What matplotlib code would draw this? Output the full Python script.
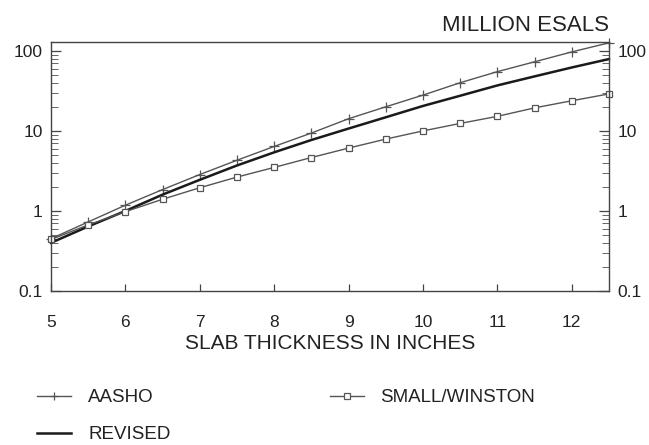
import matplotlib
matplotlib.use("Agg")
import matplotlib.pyplot as plt
from matplotlib.ticker import FixedLocator, LogLocator, NullFormatter, FixedFormatter

plt.rcParams['font.family'] = ['Liberation Sans', 'DejaVu Sans']

# data
thickness = [5.0, 5.5, 6.0, 6.5, 7.0, 7.5, 8.0, 8.5, 9.0, 9.5, 10.0, 10.5, 11.0, 11.5, 12.0, 12.5]
aasho = [0.45, 0.73, 1.18, 1.85, 2.85, 4.3, 6.4, 9.4, 14.2, 20.0, 28.0, 40.0, 55.0, 73.0, 97.0, 126.0]
revised = [0.40, 0.64, 1.0, 1.6, 2.45, 3.7, 5.4, 7.7, 10.7, 14.8, 20.5, 27.5, 37.0, 48.0, 62.0, 79.0]
small_winston = [0.44, 0.67, 0.98, 1.4, 1.95, 2.65, 3.5, 4.65, 6.1, 7.9, 10.0, 12.4, 15.2, 19.4, 23.8, 29.0]

x_ticks = [5, 6, 7, 8, 9, 10, 11, 12]
y_ticks = [0.1, 1, 10, 100]
y_tick_labels = ["0.1", "1", "10", "100"]

fig = plt.figure(figsize=(6.49, 4.45), dpi=100)
ax = fig.add_axes([51/649, 1-291/445, (609-51)/649, (291-42)/445])

ax.plot(thickness, aasho, color='#555555', lw=1.0, marker='+', ms=7, mew=0.9,
        label='AASHO', clip_on=False)
ax.plot(thickness, revised, color='#1a1a1a', lw=1.8, label='REVISED', clip_on=False)
ax.plot(thickness, small_winston, color='#555555', lw=1.0, marker='s', ms=5,
        mfc='white', mec='#555555', mew=0.9, label='SMALL/WINSTON', clip_on=False)

ax.set_yscale('log')
ax.set_xlim(5, 12.5)
ax.set_ylim(0.1, 129)

ax.xaxis.set_major_locator(FixedLocator(x_ticks))
ax.yaxis.set_major_locator(FixedLocator(y_ticks))
ax.yaxis.set_major_formatter(FixedFormatter(y_tick_labels))
ax.yaxis.set_minor_locator(LogLocator(base=10, subs=range(2, 10)))
ax.yaxis.set_minor_formatter(NullFormatter())

for s in ax.spines.values():
    s.set_color('#444444')
    s.set_linewidth(1.0)

ax.tick_params(axis='x', which='major', direction='in', length=5, width=0.9,
               color='#444444', labelsize=12.5, pad=17, top=False, labelcolor='#222222')
ax.tick_params(axis='y', which='major', direction='in', length=7, width=0.9,
               color='#444444', labelsize=12.5, pad=6, left=True, right=True,
               labelleft=True, labelright=True, labelcolor='#222222')
ax.tick_params(axis='y', which='minor', direction='in', length=5, width=0.7,
               color='#666666', left=True, right=True)

ax.set_xlabel('SLAB THICKNESS IN INCHES', fontsize=15, color='#222222', labelpad=3)
ax.text(1.0, 1.025, 'MILLION ESALS', transform=ax.transAxes, ha='right', va='bottom',
        fontsize=16, color='#222222')

fig.legend(loc='upper left', bbox_to_anchor=(28/649, 1-380/445), ncol=2,
           frameon=False, fontsize=13.5, handlelength=1.8, handletextpad=0.9,
           columnspacing=8.5, labelspacing=1.05, numpoints=1, borderpad=0,
           markerscale=0.8, labelcolor='#222222')

fig.savefig('out.png', dpi=100)
